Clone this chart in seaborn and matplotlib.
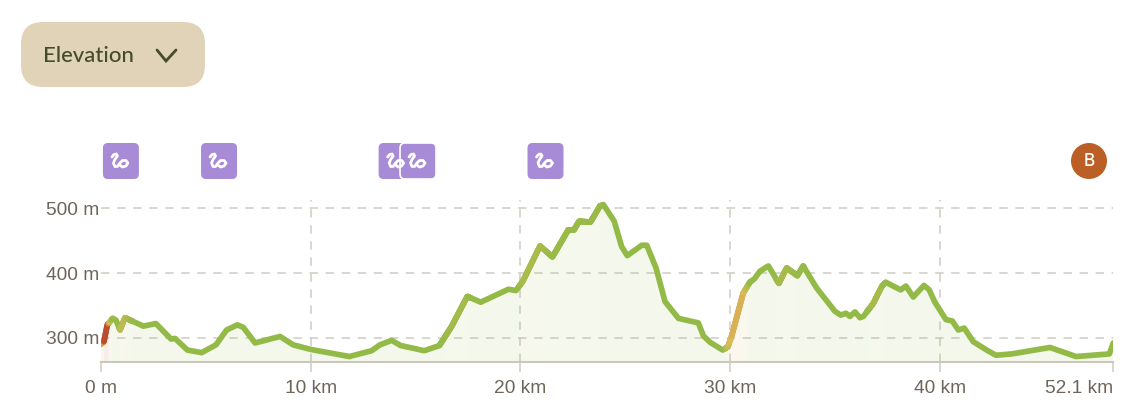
import numpy as np
import pandas as pd
import matplotlib
matplotlib.use("Agg")
import matplotlib.pyplot as plt
import seaborn as sns
from matplotlib.collections import LineCollection
from matplotlib.colors import LinearSegmentedColormap
from matplotlib.patches import FancyBboxPatch, Circle

# route profile
distanceKm = [
    0, 0.14, 0.30, 0.56, 0.72, 0.91, 1.14, 2.02, 2.62, 3.34, 3.53, 4.12, 4.80, 5.48, 5.99, 6.50,
    6.79, 7.35, 8.54, 9.17, 10.0, 11.84, 12.91, 13.3, 13.86, 14.29, 15.42, 16.14, 16.73, 17.47,
    18.11, 19.43, 19.79, 20.11, 20.94, 21.53, 22.29, 22.56, 22.80, 23.35, 23.80, 23.96, 24.48,
    24.83, 25.10, 25.79, 26.03, 26.47, 26.90, 27.54, 28.49, 28.73, 29.05, 29.65, 29.90, 30.08,
    30.63, 30.95, 31.16, 31.43, 31.83, 32.33, 32.70, 33.21, 33.49, 34.13, 35.0, 35.28, 35.53,
    35.72, 35.96, 36.20, 36.36, 36.83, 37.23, 37.42, 38.14, 38.39, 38.74, 39.25, 39.50, 39.77,
    40.30, 40.60, 40.89, 41.17, 41.60, 42.24, 42.68, 43.43, 45.26, 46.50, 48.09, 48.28,
]
elevationM = [
    290, 294, 320, 330, 327, 312, 331, 318, 322, 298, 299, 281, 277, 289, 312, 320,
    316, 292, 302, 289, 282, 271, 280, 289, 296, 288, 280, 288, 318, 364,
    355, 375, 373, 387, 442, 425, 467, 467, 480, 479, 504, 506, 480,
    441, 427, 443, 443, 408, 356, 330, 323, 303, 293, 281, 286, 303,
    369, 386, 391, 403, 411, 384, 408, 396, 411, 377, 341, 335, 338,
    333, 340, 331, 333, 353, 379, 386, 374, 380, 363, 381, 374, 355,
    328, 326, 312, 315, 294, 281, 273, 275, 285, 271, 275, 292,
]
xTickKm = [0, 10, 20, 30, 40, 48.28]
xTickLabels = ["0 m", "10 km", "20 km", "30 km", "40 km", "52.1 km"]
yTicks = [300, 400, 500]
yTickLabels = ["300 m", "400 m", "500 m"]
waypointKm = [0.95, 5.63, 14.1, 15.12, 21.2]

GREEN = "#93BA47"
textColor = "#6E645A"
gridColor = "#D0CCC2"
maxGrade = 0.16
gradeCmap = LinearSegmentedColormap.from_list(
    "grade", [(0, GREEN), (0.31, GREEN), (0.44, "#AEBB4C"), (0.72, "#DEBD5A"), (0.86, "#D0803F"), (1, "#BC4B32")]
)

W, H = 1136, 418
sns.set_theme(style="white")
plt.rcParams["font.family"] = ["Liberation Sans", "DejaVu Sans"]

fig = plt.figure(figsize=(W / 100, H / 100), dpi=100, facecolor="white")
ax = fig.add_axes([101 / W, (H - 361.7) / H, (1113.3 - 101) / W, (361.7 - 200) / H])

df = pd.DataFrame({"km": distanceKm, "m": elevationM})

# climb per stretch, the last short stretch stays green in the original
grades = np.clip(np.diff(df["m"]) / (np.diff(df["km"]) * 1000), 0, None)
grades[-1] = 0
nodeGrades = np.maximum(np.r_[grades, 0], np.r_[0, grades])

# colour ramp along the route, only used for shading
kmFine = np.linspace(0, distanceKm[-1], 2000)
mFine = np.interp(kmFine, df["km"], df["m"])
gradeFine = np.interp(kmFine, df["km"], nodeGrades)
colorFine = gradeCmap(np.clip(gradeFine / maxGrade, 0, 1))

fillRgba = colorFine[None, :, :].copy()
fillRgba[..., 3] = 0.1
area = ax.fill_between(df["km"], 263, df["m"], facecolor="none", linewidth=0)
shade = ax.imshow(fillRgba, extent=(0, distanceKm[-1], 263, 513), aspect="auto", zorder=1, interpolation="bilinear")
shade.set_clip_path(area.get_paths()[0], transform=ax.transData)

sns.lineplot(data=df, x="km", y="m", ax=ax, color=GREEN, linewidth=4.1, zorder=3,
             solid_capstyle="round", solid_joinstyle="round")

steep = gradeFine[:-1] > 0.05
points = np.column_stack([kmFine, mFine])
segments = np.stack([points[:-1], points[1:]], axis=1)[steep]
ax.add_collection(LineCollection(segments, colors=colorFine[:-1][steep], linewidths=4.1, zorder=4, capstyle="round"))

ax.set_xlim(0, 48.28)
ax.set_ylim(263, 513)
ax.set_xlabel("")
ax.set_ylabel("")
ax.set_xticks(xTickKm, xTickLabels)
ax.set_yticks(yTicks, yTickLabels)
ax.tick_params(axis="x", length=7.2, width=1.1, color=gridColor, labelsize=13.8, labelcolor=textColor, pad=6, bottom=True)
ax.tick_params(axis="y", length=0, labelsize=13.8, labelcolor=textColor, pad=1)

ax.grid(True, color=gridColor, linewidth=1.1, linestyle=(0, (5.5, 5)), zorder=0)
ax.set_axisbelow(True)
xGrid = ax.xaxis.get_gridlines()
xGrid[0].set_visible(False)
xGrid[-1].set_visible(False)

for side in ["top", "left", "right"]:
    ax.spines[side].set_visible(False)
ax.spines["bottom"].set_color("#CBC7BB")
ax.spines["bottom"].set_linewidth(1.5)

tickTexts = ax.get_xticklabels()
tickTexts[-1].set_ha("right")

# overlay in pixel coordinates for the button and the markers
ui = fig.add_axes([0, 0, 1, 1], facecolor="none")
ui.set_xlim(0, W)
ui.set_ylim(H, 0)
ui.axis("off")

ui.add_patch(FancyBboxPatch((43, 44), 140, 21, boxstyle="round,pad=22,rounding_size=22",
                            facecolor="#E0D3B8", edgecolor="none"))
ui.text(43, 55.5, "Elevation", fontsize=15.9, color="#454C2B", family="Lato", weight="medium", va="center", ha="left")
ui.plot([157, 166, 176], [50, 61, 50], color="#454C2B", linewidth=2, solid_capstyle="round", solid_joinstyle="miter")

squiggle = np.array([
    (9, 14), (11, 11.5), (13.5, 11), (14.5, 13), (12, 16.5), (10.5, 20), (12, 23.5), (14.5, 23.5),
    (17, 20), (19.5, 17.5), (23, 17.5), (25, 20), (23, 23), (19.5, 24), (17.5, 22.5),
])
for i, km in enumerate(waypointKm):
    left = 101 + km * (1113.3 - 101) / 48.28 - 18
    edge = "white" if i == 3 else "none"
    ui.add_patch(FancyBboxPatch((left + 5, 148), 26, 26, boxstyle="round,pad=5,rounding_size=5",
                                facecolor="#A78BD6", edgecolor=edge, linewidth=1.2))
    ui.plot(left + squiggle[:, 0], 143 + squiggle[:, 1], color="white", linewidth=2,
            solid_capstyle="round", solid_joinstyle="round")

ui.add_patch(Circle((1089, 161), 18, facecolor="#BC5F27", edgecolor="none"))
ui.text(1089, 161.5, "B", fontsize=12.3, color="white", family="Inter", weight="medium", ha="center", va="center")

fig.savefig("out.png", dpi=100)
plt.close(fig)
